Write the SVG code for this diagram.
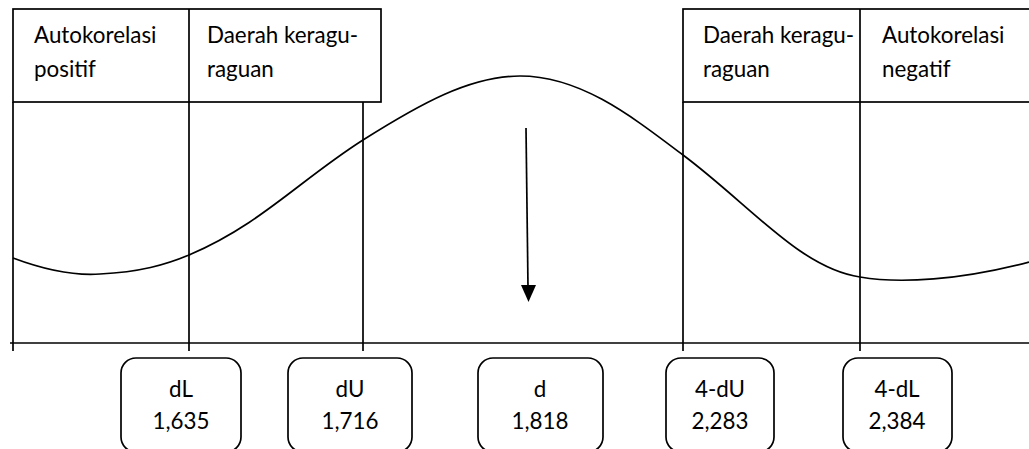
<svg xmlns="http://www.w3.org/2000/svg" width="1029" height="449" viewBox="0 0 1029 449">
<style>
.ln{stroke:#000;stroke-width:1.7;fill:none}
.bx{stroke:#000;stroke-width:1.7;fill:#fff}
.t{font-family:Lato,"Liberation Sans",sans-serif;font-size:22.4px;fill:#000}
.c{text-anchor:middle}
</style>
<g id="connectors">
<line class="ln" x1="10" y1="343" x2="1029" y2="343"/>
<line class="ln" x1="13" y1="102" x2="13" y2="351"/>
<line class="ln" x1="189" y1="102" x2="189" y2="351"/>
<line class="ln" x1="363" y1="102" x2="363" y2="351"/>
<line class="ln" x1="683" y1="102" x2="683" y2="351"/>
<line class="ln" x1="860" y1="102" x2="860" y2="351"/>
<path class="ln" d="M13,258 C45,270 72,276 100,274 C140,272 165,265 189,255 C260,225 300,180 363,140 C420,104 470,76 520,76 C580,76 630,115 683,155 C750,205 800,268 860,277 C900,284 960,280 1029,262"/>
<line class="ln" x1="526" y1="128" x2="528" y2="287"/>
<path d="M521,285 L536,285 L528.5,302 Z" fill="#000"/>
</g>
<g id="top-left">
<rect class="bx" x="13" y="9" width="368" height="93"/>
<line class="ln" x1="189" y1="9" x2="189" y2="102"/>
<text class="t" x="34" y="43">Autokorelasi</text>
<text class="t" x="34" y="77">positif</text>
<text class="t" x="207" y="43">Daerah keragu-</text>
<text class="t" x="207" y="77">raguan</text>
</g>
<g id="top-right">
<rect class="bx" x="683" y="9" width="360" height="93"/>
<line class="ln" x1="860" y1="9" x2="860" y2="102"/>
<text class="t" x="703" y="43">Daerah keragu-</text>
<text class="t" x="703" y="77">raguan</text>
<text class="t" x="882" y="43">Autokorelasi</text>
<text class="t" x="882" y="77">negatif</text>
</g>
<g id="node-dL">
<rect class="bx" x="121" y="358" width="120" height="94" rx="15"/>
<text class="t c" x="181" y="397">dL</text>
<text class="t c" x="181" y="429">1,635</text>
</g>
<g id="node-dU">
<rect class="bx" x="288" y="358" width="124" height="94" rx="15"/>
<text class="t c" x="350" y="397">dU</text>
<text class="t c" x="350" y="429">1,716</text>
</g>
<g id="node-d">
<rect class="bx" x="478" y="358" width="125" height="94" rx="15"/>
<text class="t c" x="540" y="397">d</text>
<text class="t c" x="540" y="429">1,818</text>
</g>
<g id="node-4dU">
<rect class="bx" x="666" y="358" width="108" height="94" rx="15"/>
<text class="t c" x="720" y="397">4-dU</text>
<text class="t c" x="720" y="429">2,283</text>
</g>
<g id="node-4dL">
<rect class="bx" x="843" y="358" width="109" height="94" rx="15"/>
<text class="t c" x="897" y="397">4-dL</text>
<text class="t c" x="897" y="429">2,384</text>
</g>
</svg>
